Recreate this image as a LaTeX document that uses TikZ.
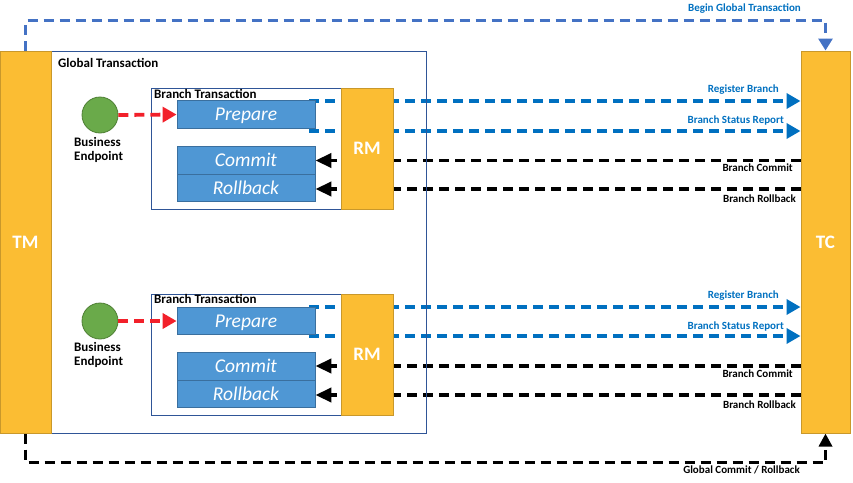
\documentclass[tikz,border=0pt]{standalone}
\usepackage{fontspec}
\setmainfont{Carlito}
\usetikzlibrary{arrows.meta,backgrounds}
\definecolor{barfill}{HTML}{FBBD33}
\definecolor{barline}{HTML}{C9982B}
\definecolor{boxfill}{HTML}{4F97D4}
\definecolor{boxline}{HTML}{3A6F9E}
\definecolor{lineblue}{HTML}{0070C0}
\definecolor{topblue}{HTML}{4472C4}
\definecolor{frameblue}{HTML}{2F5597}
\definecolor{greenfill}{HTML}{6AAA4A}
\definecolor{greenline}{HTML}{4E7F34}
\definecolor{redline}{HTML}{F2202A}
\tikzset{
  bar/.style={draw=barline,fill=barfill,line width=1pt,inner sep=0pt,text=white,font=\bfseries\fontsize{19}{19}\selectfont},
  frame/.style={draw=frameblue,line width=0.8pt,inner sep=0pt},
  stepbox/.style={draw=boxline,fill=boxfill,line width=0.8pt,inner sep=0pt,minimum width=138pt,minimum height=27.5pt,text height=13pt,text depth=0.7pt,text=white,font=\itshape\fontsize{19.5}{19.5}\selectfont},
  endpoint/.style={circle,draw=greenline,fill=greenfill,line width=0.8pt,minimum size=36pt,inner sep=0pt},
  bluedash/.style={draw=lineblue,line width=3.5pt,dash pattern=on 10pt off 6pt,-{Triangle[length=14pt,width=15pt]}},
  topdash/.style={draw=topblue,line width=3.5pt,dash pattern=on 10pt off 6pt,-{Triangle[length=12pt,width=14pt]}},
  blackdash/.style={draw=black,line width=3.8pt,dash pattern=on 10pt off 6pt,-{Triangle[length=16pt,width=14pt]}},
  reddash/.style={draw=redline,line width=3.8pt,dash pattern=on 10pt off 6pt,-{Triangle[length=14pt,width=15pt]}},
  bluelabel/.style={text=lineblue,font=\bfseries\fontsize{11}{12}\selectfont,inner sep=0pt},
  blacklabel/.style={text=black,font=\bfseries\fontsize{11}{12}\selectfont,inner sep=0pt},
  titlelabel/.style={font=\bfseries\fontsize{13}{14}\selectfont,inner sep=0pt,anchor=west},
  eplabel/.style={font=\bfseries\fontsize{13}{14.5}\selectfont,inner sep=0pt,align=left,anchor=north west}
}
\begin{document}
\begin{tikzpicture}[x=1pt,y=-1pt]
\useasboundingbox (0,0) rectangle (853,482);
% global frame and bars
\node[frame,minimum width=375pt,minimum height=382pt] (global) at (238.5,242) {};
\node[titlelabel] (globaltitle) at (58,62.5) {Global Transaction};
\node[bar,minimum width=51pt,minimum height=382pt] (TM) at (25.5,242) {TM};
\node[bar,minimum width=49pt,minimum height=382pt] (TC) at (825.5,242) {TC};

% branch 1
\node[frame,minimum width=190pt,minimum height=121pt] (branchA) at (246,148.5) {};
\node[titlelabel] (branchAtitle) at (154,93.5) {Branch Transaction};
\node[stepbox] (prepA) at (246,114.5) {Prepare};
\node[stepbox] (commitA) at (246,160.5) {Commit};
\node[stepbox] (rollA) at (246,188) {Rollback};
\node[endpoint] (epA) at (100,115) {};
\node[eplabel] (epAlabel) at (74,137) {Business\\Endpoint};
\coordinate (regAs) at (309,101);
\coordinate (repAs) at (309,131);

% branch 2
\node[frame,minimum width=190pt,minimum height=121pt] (branchB) at (246,354.5) {};
\node[titlelabel] (branchBtitle) at (154,299) {Branch Transaction};
\node[stepbox] (prepB) at (246,321) {Prepare};
\node[stepbox] (commitB) at (246,366.5) {Commit};
\node[stepbox] (rollB) at (246,394) {Rollback};
\node[endpoint] (epB) at (100,321) {};
\node[eplabel] (epBlabel) at (74,342) {Business\\Endpoint};
\coordinate (regBs) at (309,307);
\coordinate (repBs) at (309,336);

\begin{pgfonlayer}{background}
% top and bottom
\draw[topdash] (TM.north) -- ++(0,-30) -| (TC.north);
\draw[blackdash,-{Triangle[length=13pt,width=13pt]}] (TM.south) -- ++(0,29) -| (TC.south);
% branch 1 lines
\draw[bluedash] (regAs) -- (regAs -| TC.west);
\draw[bluedash] (repAs) -- (repAs -| TC.west);
\draw[blackdash] (commitA.east -| TC.west) -- (commitA.east);
\draw[blackdash] (TC.west |- 0,189) -- (rollA.east |- 0,189);
% branch 2 lines
\draw[bluedash] (regBs) -- (regBs -| TC.west);
\draw[bluedash] (repBs) -- (repBs -| TC.west);
\draw[blackdash] (TC.west |- 0,366) -- (commitB.east |- 0,366);
\draw[blackdash] (TC.west |- 0,395) -- (rollB.east |- 0,395);
\end{pgfonlayer}

\node[bar,minimum width=52pt,minimum height=121pt] (RMA) at (367,148.5) {RM};
\node[bar,minimum width=52pt,minimum height=121pt] (RMB) at (367,354.5) {RM};

\draw[reddash] (epA.east) -- (prepA.west);
\draw[reddash] (epB.east) -- (prepB.west);

% labels
\node[bluelabel,anchor=east] (lbegin) at (801,9) {Begin Global Transaction};
\node[blacklabel,anchor=east] (lglobal) at (800,470) {Global Commit / Rollback};
\node[bluelabel,anchor=east] (lregA) at (779,90) {Register Branch};
\node[bluelabel,anchor=east] (lrepA) at (784,121) {Branch Status Report};
\node[blacklabel,anchor=east] (lcomA) at (793,168) {Branch Commit};
\node[blacklabel,anchor=east] (lrolA) at (796,199) {Branch Rollback};
\node[bluelabel,anchor=east] (lregB) at (779,296) {Register Branch};
\node[bluelabel,anchor=east] (lrepB) at (784,326) {Branch Status Report};
\node[blacklabel,anchor=east] (lcomB) at (793,374) {Branch Commit};
\node[blacklabel,anchor=east] (lrolB) at (796,405) {Branch Rollback};
\end{tikzpicture}
\end{document}
